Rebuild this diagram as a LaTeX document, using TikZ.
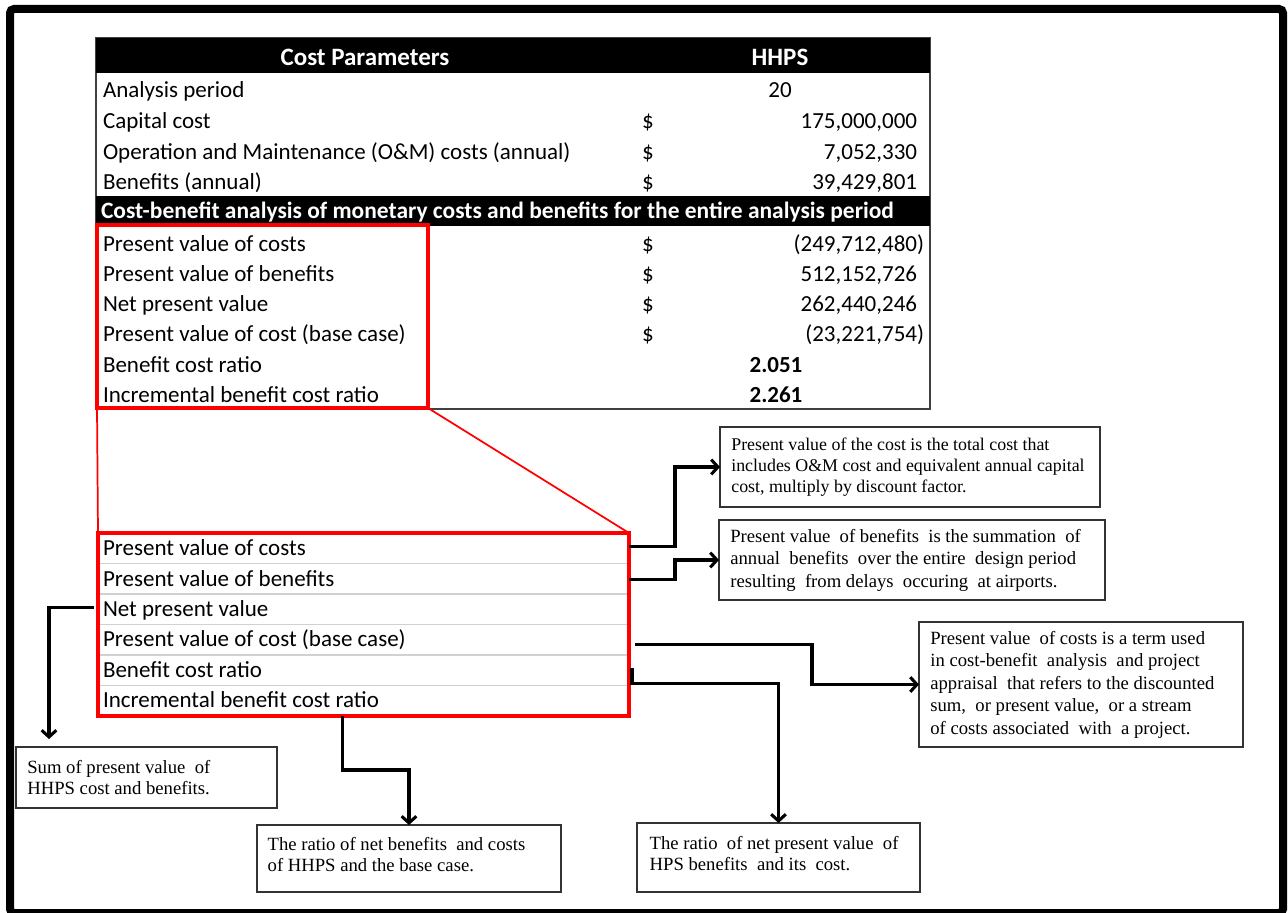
\documentclass[tikz,border=0pt]{standalone}
\usepackage{fontspec}
\setmainfont{Liberation Serif}
\newfontfamily\calib{Carlito}
\usetikzlibrary{arrows.meta,calc}

\begin{document}
\begin{tikzpicture}[x=0.75pt,y=-0.75pt,
  every node/.style={inner sep=0pt,outer sep=0pt},
  tabfont/.style={font=\calib\fontsize{17.25}{20}\selectfont},
  tablbl/.style={tabfont,anchor=base west},
  tabdol/.style={tabfont,anchor=base west},
  tabnum/.style={tabfont,anchor=base east},
  tabbold/.style={font=\calib\bfseries\fontsize{17.25}{20}\selectfont,anchor=base},
  headtxt/.style={font=\calib\bfseries\fontsize{18.75}{22}\selectfont,text=white,anchor=base},
  redbox/.style={draw=red,line width=3pt},
  descbox/.style={draw=black!80,line width=1pt},
  desctxt/.style={font=\fontsize{14}{16.3}\selectfont,align=left,anchor=west},
  link/.style={line width=2.3pt,-{Straight Barb[length=5pt,width=11pt]}},
  zoomline/.style={red,line width=1.3pt},
  rowsep/.style={black!18,line width=1pt}
]
\useasboundingbox (0,0) rectangle (1288,913);

% outer frame
\draw[line width=6pt,rounded corners=3pt] (10,9) rectangle (1283,913);

% ---------- cost table ----------
\node[draw=black!75,line width=1.5pt,minimum width=625.5pt,minimum height=278.25pt] (tbl) at (513,223.5) {};
\node[fill=black,minimum width=625.5pt,minimum height=26.25pt] (hdr) at (513,55.5) {};
\node[fill=black,minimum width=625.5pt,minimum height=22.5pt] (band) at (513,211) {};

\node[headtxt] (hcost) at (365,66) {Cost Parameters};
\node[headtxt] (hhhps) at (780,66) {HHPS};

\node[tablbl] (r1) at (103,98) {Analysis period};
\node[tablbl] (r2) at (103,129) {Capital cost};
\node[tablbl] (r3) at (103,160) {Operation and Maintenance (O\&M) costs (annual)};
\node[tablbl] (r4) at (103,190) {Benefits (annual)};

\node[tabfont,anchor=base] (v1) at (780,98) {20};
\node[tabdol] (d2) at (642,129) {\$};
\node[tabnum] (v2) at (924,129) {175,000,000\phantom{)}};
\node[tabdol] (d3) at (642,160) {\$};
\node[tabnum] (v3) at (924,160) {7,052,330\phantom{)}};
\node[tabdol] (d4) at (642,190) {\$};
\node[tabnum] (v4) at (924,190) {39,429,801\phantom{)}};

\node[font=\calib\bfseries\fontsize{17.6}{20}\selectfont,text=white,anchor=base west] (bandtxt) at (101,218)
  {Cost-benefit analysis of monetary costs and benefits for the entire analysis period};

\node[tablbl] (s1) at (103,251) {Present value of costs};
\node[tablbl] (s2) at (103,281) {Present value of benefits};
\node[tablbl] (s3) at (103,311) {Net present value};
\node[tablbl] (s4) at (103,341) {Present value of cost (base case)};
\node[tablbl] (s5) at (103,372) {Benefit cost ratio};
\node[tablbl] (s6) at (103,402) {Incremental benefit cost ratio};

\node[tabdol] (e1) at (642,251) {\$};
\node[tabnum] (w1) at (924,251) {(249,712,480)};
\node[tabdol] (e2) at (642,281) {\$};
\node[tabnum] (w2) at (924,281) {512,152,726\phantom{)}};
\node[tabdol] (e3) at (642,311) {\$};
\node[tabnum] (w3) at (924,311) {262,440,246\phantom{)}};
\node[tabdol] (e4) at (642,341) {\$};
\node[tabnum] (w4) at (924,341) {(23,221,754)};
\node[tabbold] (w5) at (776,372) {2.051};
\node[tabbold] (w6) at (776,402) {2.261};

\node[redbox,minimum width=248.25pt,minimum height=137.25pt] (upbox) at (262.5,316.5) {};

% ---------- enlarged selection ----------
\node[minimum width=398.25pt,minimum height=137.25pt] (lowbox) at (363.5,624.5) {};
\foreach \yy in {563.5,594,624.5,655,685.5}
  \draw[rowsep] (lowbox.west |- 0,\yy) -- (lowbox.east |- 0,\yy);
\node[redbox,minimum width=398.25pt,minimum height=137.25pt] (lowframe) at (lowbox) {};

\node[tablbl] (l1) at (103,555) {Present value of costs};
\node[tablbl] (l2) at (103,586) {Present value of benefits};
\node[tablbl] (l3) at (103,616) {Net present value};
\node[tablbl] (l4) at (103,646) {Present value of cost (base case)};
\node[tablbl] (l5) at (103,677) {Benefit cost ratio};
\node[tablbl] (l6) at (103,707) {Incremental benefit cost ratio};

\draw[zoomline] (upbox.south west) -- (lowbox.north west);
\draw[zoomline] (upbox.south east) -- (lowbox.north east);

% ---------- explanation boxes ----------
\node[descbox,minimum width=285pt,minimum height=60pt] (pvcdef) at (910,467) {};
\node[desctxt,font=\fontsize{13.4}{15.6}\selectfont] (pvctxt) at ([xshift=8.5pt]pvcdef.west)
  {Present value of the cost is the total cost that\\includes O\&M cost and equivalent annual capital\\cost, multiply by discount factor.};

\node[descbox,minimum width=289.5pt,minimum height=60pt] (pvbdef) at (912,560) {};
\node[desctxt,font=\fontsize{14}{16.9}\selectfont] (pvbtxt) at ([xshift=8.5pt]pvbdef.west)
  {Present value \ of benefits \ is the summation \ of\\annual \ benefits \ over the entire \ design period\\resulting \ from delays \ occuring \ at airports.};

\node[descbox,minimum width=243pt,minimum height=93.75pt] (pvbasedef) at (1081,684.5) {};
\node[desctxt,font=\fontsize{14}{16.9}\selectfont] (pvbasetxt) at ([xshift=8.5pt]pvbasedef.west)
  {Present value \ of costs is a term used\\in cost-benefit \ analysis \ and project\\appraisal \ that refers to the discounted\\sum, \ or present value, \ or a stream\\of costs associated \ with \ a project.};

\node[descbox,minimum width=195.75pt,minimum height=45.75pt] (npvdef) at (146.5,777.5) {};
\node[desctxt] (npvtxt) at ([xshift=8.5pt]npvdef.west)
  {Sum of present value \ of\\HHPS cost and benefits.};

\node[descbox,minimum width=228pt,minimum height=50.25pt] (ibcrdef) at (409,858.5) {};
\node[desctxt] (ibcrtxt) at ([xshift=8pt,yshift=3pt]ibcrdef.west)
  {The ratio of net benefits \ and costs\\of HHPS and the base case.};

\node[descbox,minimum width=212.25pt,minimum height=51.75pt] (bcrdef) at (778.5,857.5) {};
\node[desctxt] (bcrtxt) at ([xshift=9.5pt,yshift=3pt]bcrdef.west)
  {The ratio \ of net present value \ of\\HPS benefits \ and its \ cost.};

% ---------- connectors ----------
\draw[link] ($(lowbox.east |- l1)+(0,-1)$) -- ++(46,0) |- (pvcdef.west);
\draw[link] ($(lowbox.east |- l2)+(0,1)$) -- ++(46,0) |- (pvbdef.west);
\draw[link] ($(lowbox.east |- l4)+(6,5)$) -- ++(177,0) |- (pvbasedef.west);
\draw[link] ($(lowbox.east |- l5)+(3,-1)$) -- ++(0,15) -| (bcrdef.north);
\draw[link] ($(lowbox.south west)!0.46!(lowbox.south east)$) -- ++(0,54) -| (ibcrdef.north);
\draw[link] ($(lowbox.west |- l3)+(-4,-2)$) -| ($(npvdef.north west)+(33,-8)$);

\end{tikzpicture}
\end{document}
